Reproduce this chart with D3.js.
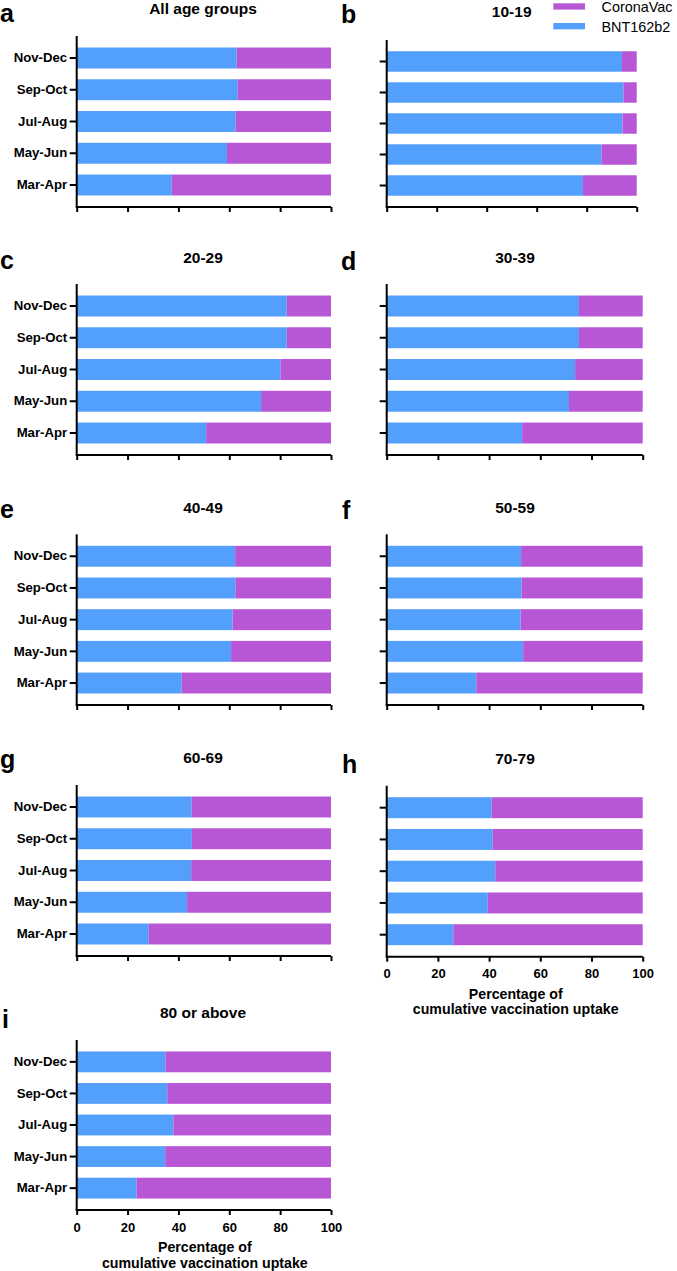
<!DOCTYPE html>
<html>
<head>
<meta charset="utf-8">
<script src="https://cdn.jsdelivr.net/npm/d3@7"></script>
<style>
  html, body { margin: 0; padding: 0; background: #ffffff; }
  svg { display: block; font-family: "Liberation Sans", Arial, sans-serif; }
</style>
</head>
<body>
<svg id="chart" width="677" height="1271"></svg>
<script>
// ---------------- DATA ----------------
const periods = ["Nov-Dec", "Sep-Oct", "Jul-Aug", "May-Jun", "Mar-Apr"];
const seriesNames = ["CoronaVac", "BNT162b2"];
const panelLetters = ["a", "b", "c", "d", "e", "f", "g", "h", "i"];
const panelTitles = ["All age groups", "10-19", "20-29", "30-39", "40-49", "50-59", "60-69", "70-79", "80 or above"];
const xTicks = [0, 20, 40, 60, 80, 100];
const xTitleLines = ["Percentage of", "cumulative vaccination uptake"];

// BNT162b2 share (%) per period; CoronaVac = 100 - BNT162b2
const bntAll   = [62.9, 63.3, 62.5, 59.1, 37.4];
const bnt10_19 = [94.1, 94.7, 94.3, 85.9, 78.5];
const bnt20_29 = [82.6, 82.6, 80.1, 72.5, 50.9];
const bnt30_39 = [75.1, 75.1, 73.6, 71.2, 52.9];
const bnt40_49 = [62.3, 62.4, 61.3, 60.7, 41.3];
const bnt50_59 = [52.5, 52.7, 52.3, 53.3, 35.0];
const bnt60_69 = [45.2, 45.3, 45.0, 43.4, 28.3];
const bnt70_79 = [41.0, 41.4, 42.4, 39.5, 26.0];
const bnt80up  = [34.9, 35.6, 38.0, 34.8, 23.5];
const bntByPanel = [bntAll, bnt10_19, bnt20_29, bnt30_39, bnt40_49, bnt50_59, bnt60_69, bnt70_79, bnt80up];

// ---------------- LAYOUT ----------------
const colors = { "BNT162b2": "#539ffc", "CoronaVac": "#b757d6" };
const layout = [
  { x0: 76.7,  x1: 331,   yT: 36,    yB: 207,   tx: 203,   ty: 13.5,  lx: 0,   ly: 22,    yl: true,  xl: false },
  { x0: 386.7, x1: 636.7, yT: 40,    yB: 207,   tx: 511.7, ty: 17,    lx: 341, ly: 22.5,  yl: false, xl: false },
  { x0: 76.7,  x1: 331,   yT: 284,   yB: 455,   tx: 203,   ty: 262.7, lx: 0,   ly: 269,   yl: true,  xl: false },
  { x0: 386.7, x1: 642.7, yT: 284,   yB: 455,   tx: 515,   ty: 262.7, lx: 341, ly: 270,   yl: false, xl: false },
  { x0: 76.7,  x1: 331,   yT: 534.3, yB: 705,   tx: 203,   ty: 512.7, lx: 0,   ly: 518.3, yl: true,  xl: false },
  { x0: 386.7, x1: 642.7, yT: 534.3, yB: 705,   tx: 515,   ty: 512.7, lx: 342, ly: 519,   yl: false, xl: false },
  { x0: 76.7,  x1: 331,   yT: 785,   yB: 956,   tx: 203,   ty: 763.3, lx: 0,   ly: 768,   yl: true,  xl: false },
  { x0: 386.7, x1: 642.7, yT: 785.7, yB: 956.7, tx: 515,   ty: 764,   lx: 342, ly: 773,   yl: false, xl: true  },
  { x0: 76.7,  x1: 331,   yT: 1040,  yB: 1210,  tx: 203,   ty: 1017.7,lx: 2,   ly: 1028.3,yl: true,  xl: true  }
];

const svg = d3.select("#chart");

layout.forEach((L, i) => {
  const vals = bntByPanel[i];
  const rows = periods.map((p, k) => ({ period: p, "BNT162b2": vals[k], "CoronaVac": 100 - vals[k] }));
  const stack = d3.stack().keys(["BNT162b2", "CoronaVac"])(rows);

  const x = d3.scaleLinear().domain([0, 100]).range([L.x0, L.x1]);
  const y = d3.scaleBand().domain(periods).range([L.yT, L.yB]).paddingInner(0.34).paddingOuter(0.363);

  const g = svg.append("g");

  stack.forEach(layer => {
    g.append("g").selectAll("rect").data(layer).join("rect")
      .attr("x", d => x(d[0]))
      .attr("y", d => y(d.data.period))
      .attr("width", d => x(d[1]) - x(d[0]))
      .attr("height", y.bandwidth())
      .attr("fill", colors[layer.key]);
  });

  const yAxis = d3.axisLeft(y).tickSize(7).tickSizeOuter(0).tickPadding(2.5);
  const ya = g.append("g").attr("transform", `translate(${L.x0},0)`).call(yAxis);
  ya.select(".domain").attr("stroke", "#000").attr("stroke-width", 2)
    .attr("d", `M0,${L.yT}V${L.yB}`);
  ya.selectAll(".tick line").attr("stroke", "#000").attr("stroke-width", 2);
  ya.selectAll(".tick text")
    .attr("font-size", 13.2).attr("font-weight", "bold").attr("fill", "#000")
    .attr("font-family", "Liberation Sans, Arial, sans-serif");
  if (!L.yl) ya.selectAll(".tick text").remove();

  const xAxis = d3.axisBottom(x).tickValues(xTicks).tickSize(5).tickSizeOuter(0).tickPadding(7.5);
  const xa = g.append("g").attr("transform", `translate(0,${L.yB})`).call(xAxis);
  xa.select(".domain").attr("stroke", "#000").attr("stroke-width", 2)
    .attr("d", `M${L.x0 - 1},0H${L.x1}`);
  xa.selectAll(".tick line").attr("stroke", "#000").attr("stroke-width", 2);
  xa.selectAll(".tick text")
    .attr("font-size", 13).attr("font-weight", "bold").attr("fill", "#000")
    .attr("font-family", "Liberation Sans, Arial, sans-serif");
  if (!L.xl) xa.selectAll(".tick text").remove();
  else {
    const cx = (L.x0 + L.x1) / 2 + 1;
    xTitleLines.forEach((t, k) => {
      g.append("text").attr("x", cx).attr("y", L.yB + 42 + k * 15.5)
        .attr("text-anchor", "middle").attr("font-size", 14.2).attr("font-weight", "bold")
        .attr("fill", "#000").text(t);
    });
  }

  g.append("text").attr("x", L.tx).attr("y", L.ty).attr("text-anchor", "middle")
    .attr("font-size", 15.5).attr("font-weight", "bold").attr("fill", "#000").text(panelTitles[i]);
  g.append("text").attr("x", L.lx).attr("y", L.ly)
    .attr("font-size", 25).attr("font-weight", "bold").attr("fill", "#000").text(panelLetters[i]);
});

// legend
const legendItems = ["CoronaVac", "BNT162b2"];
const legend = svg.append("g");
legendItems.forEach((name, k) => {
  const yy = 3.3 + k * 19.7;
  legend.append("rect").attr("x", 553.3).attr("y", yy).attr("width", 31.7).attr("height", 6.3)
    .attr("fill", colors[name]);
  legend.append("text").attr("x", 601.5).attr("y", yy + 8.6)
    .attr("font-size", 14.4).attr("fill", "#000").text(name);
});
</script>
</body>
</html>
